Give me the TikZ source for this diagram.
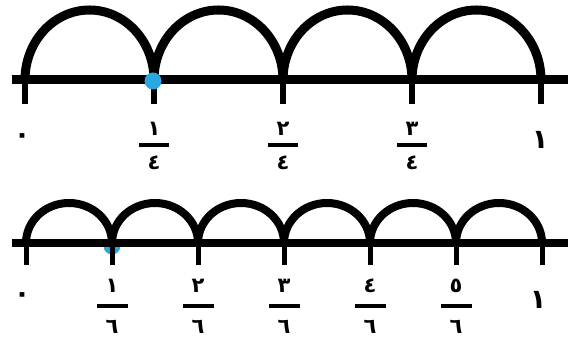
\documentclass[tikz,border=0pt]{standalone}
\usepackage{fontspec}
\newfontfamily\arabicfont[Script=Arabic]{DejaVu Sans}
\TeXXeTstate=1
\definecolor{dotblue}{HTML}{29A8E0}
\tikzset{
  axis/.style={line width=9pt},
  tickline/.style={line width=5.5pt},
  arcline/.style={line width=9pt},
  num/.style={font=\arabicfont\bfseries\fontsize{21}{21}\selectfont, inner sep=0pt},
  whole/.style={font=\arabicfont\bfseries\fontsize{27}{27}\selectfont, inner sep=0pt},
  fbar/.style={fill=black, minimum width=30pt, minimum height=4pt, inner sep=0pt},
}
\begin{document}
\begin{tikzpicture}[x=1pt,y=1pt]
\useasboundingbox (0,0) rectangle (569,347);
% ---------- top number line (quarters) ----------
\coordinate (tl) at (12,267);
\coordinate (tr) at (568,267);
\foreach \i/\x in {0/25,1/154,2/283,3/412,4/541}{
  \coordinate (t\i) at (\x,267);
  \coordinate (tb\i) at (\x,243);
}
\draw[axis] (tl) -- (tr);
\foreach \i in {0,...,4}{ \draw[tickline] (t\i) -- (tb\i); }
\foreach \i in {0,...,3}{
  \draw[arcline] (t\i) arc[start angle=180, end angle=0, x radius=64.5pt, y radius=70pt];
}
\node[circle, fill=dotblue, minimum size=17pt, inner sep=0pt] (tdot) at (153,266) {};
% labels
\node[whole] (tz) at (22,208) {\beginR ٠\endR};
\node[whole] (tone) at (540,207) {\beginR ١\endR};
\foreach \i/\x/\n in {1/154/١,2/283/٢,3/412/٣}{
  \node[num] (tn\i) at (\x,218) {\beginR \n\endR};
  \node[fbar] (tf\i) at (\x,202) {};
  \node[num] (td\i) at (\x,184) {\beginR ٤\endR};
}
% ---------- bottom number line (sixths) ----------
\coordinate (bl) at (12,104);
\coordinate (br) at (568,104);
\foreach \i/\x in {0/26,1/112,2/198,3/284,4/370,5/456,6/542}{
  \coordinate (s\i) at (\x,104);
  \coordinate (sb\i) at (\x,82);
}
\node[circle, fill=dotblue, minimum size=17pt, inner sep=0pt] (bdot) at (112,101) {};
\draw[axis, line width=8pt] (bl) -- (br);
\foreach \i in {0,...,6}{ \draw[tickline, line width=5pt] (s\i) -- (sb\i); }
\foreach \i in {0,...,5}{
  \draw[arcline, line width=8pt] (s\i) arc[start angle=180, end angle=0, x radius=43pt, y radius=40pt];
}
\node[whole] (bz) at (22,49) {\beginR ٠\endR};
\node[whole] (bone) at (538,47) {\beginR ١\endR};
\foreach \i/\x/\n in {1/112/١,2/198/٢,3/284/٣,4/370/٤,5/456/٥}{
  \node[num] (bn\i) at (\x,61) {\beginR \n\endR};
  \node[fbar, minimum width=31pt] (bf\i) at (\x,41) {};
  \node[num] (bd\i) at (\x,20) {\beginR ٦\endR};
}
\end{tikzpicture}
\end{document}
